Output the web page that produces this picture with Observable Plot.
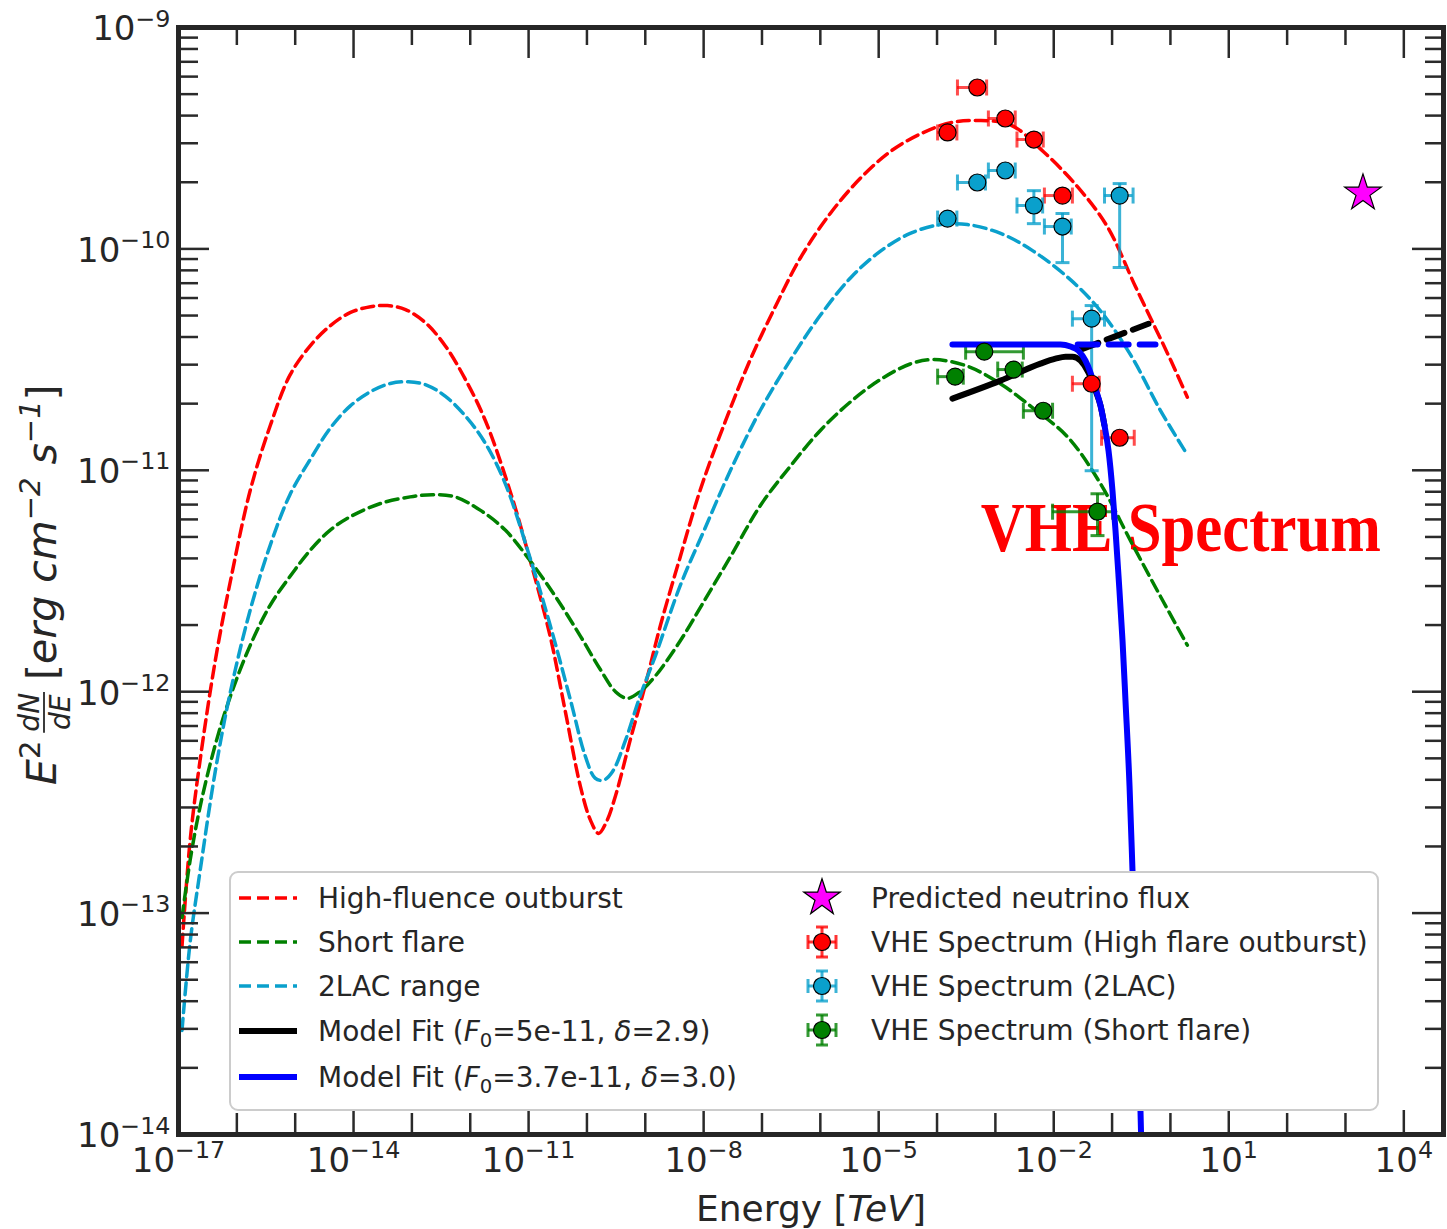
<!DOCTYPE html>
<html>
<head>
<meta charset="utf-8">
<script src="https://cdn.jsdelivr.net/npm/d3@7"></script>
<script src="https://cdn.jsdelivr.net/npm/@observablehq/plot@0.6"></script>
<style>
  body { margin: 0; background: #ffffff; }
  #chart svg { display: block; }
</style>
</head>
<body>
<div id="chart"></div>
<script>
// ---------------- DATA ----------------
// Model SED curves: [log10 E (TeV), log10 E^2 dN/dE (erg cm^-2 s^-1)]
const highFluenceOutburst = [
  [-16.94,-13.15],[-16.80,-12.67],[-16.63,-12.31],[-16.37,-11.86],[-16.11,-11.50],[-15.77,-11.09],
  [-15.43,-10.80],[-15.09,-10.57],[-14.74,-10.437],[-14.40,-10.347],[-14.06,-10.288],[-13.71,-10.261],
  [-13.42,-10.256],[-13.11,-10.274],[-12.77,-10.333],[-12.43,-10.437],[-12.09,-10.586],[-11.74,-10.776],
  [-11.31,-11.10],[-10.97,-11.41],[-10.63,-11.75],[-10.37,-12.09],[-10.11,-12.43],[-9.94,-12.58],
  [-9.80,-12.64],[-9.67,-12.59],[-9.51,-12.47],[-9.26,-12.22],[-9.00,-11.97],[-8.74,-11.70],
  [-8.40,-11.39],[-8.06,-11.09],[-7.63,-10.78],[-7.20,-10.50],[-6.77,-10.26],[-6.34,-10.04],
  [-5.83,-9.84],[-5.31,-9.68],[-4.80,-9.56],[-4.28,-9.48],[-3.77,-9.43],[-3.31,-9.42],
  [-2.74,-9.44],[-2.18,-9.56],[-1.59,-9.72],[-1.08,-9.90],[-0.60,-10.17],[-0.29,-10.34],
  [0.00,-10.50],[0.29,-10.67]
];
const shortFlare = [
  [-16.94,-13.02],[-16.80,-12.76],[-16.63,-12.52],[-16.37,-12.24],[-16.11,-12.02],[-15.77,-11.79],
  [-15.43,-11.61],[-15.09,-11.48],[-14.74,-11.36],[-14.40,-11.27],[-14.06,-11.21],[-13.54,-11.15],
  [-13.03,-11.12],[-12.65,-11.11],[-12.26,-11.12],[-11.83,-11.18],[-11.40,-11.27],[-10.97,-11.41],
  [-10.54,-11.57],[-10.11,-11.75],[-9.77,-11.90],[-9.51,-12.00],[-9.31,-12.03],[-9.09,-12.00],
  [-8.83,-11.93],[-8.40,-11.77],[-7.99,-11.59],[-7.54,-11.39],[-7.03,-11.16],[-6.51,-10.98],
  [-6.00,-10.82],[-5.48,-10.69],[-4.97,-10.59],[-4.46,-10.52],[-4.06,-10.50],[-3.48,-10.53],
  [-2.91,-10.61],[-2.35,-10.72],[-1.76,-10.85],[-1.20,-11.06],[-0.68,-11.32],[-0.17,-11.57],
  [0.29,-11.79]
];
const lac2Range = [
  [-16.94,-13.53],[-16.80,-13.13],[-16.63,-12.81],[-16.37,-12.36],[-16.11,-12.00],[-15.77,-11.63],
  [-15.43,-11.34],[-15.09,-11.11],[-14.74,-10.95],[-14.40,-10.81],[-14.06,-10.71],[-13.71,-10.645],
  [-13.37,-10.608],[-13.06,-10.600],[-12.75,-10.615],[-12.43,-10.665],[-12.10,-10.75],[-11.76,-10.87],
  [-11.40,-11.06],[-10.97,-11.40],[-10.63,-11.70],[-10.28,-12.04],[-10.03,-12.29],[-9.86,-12.39],
  [-9.72,-12.40],[-9.56,-12.36],[-9.34,-12.22],[-9.09,-12.02],[-8.83,-11.84],[-8.40,-11.52],
  [-7.99,-11.27],[-7.54,-11.00],[-7.03,-10.73],[-6.51,-10.50],[-6.00,-10.30],[-5.48,-10.13],
  [-4.97,-10.01],[-4.46,-9.93],[-3.94,-9.89],[-3.48,-9.89],[-2.91,-9.93],[-2.35,-10.01],
  [-1.71,-10.14],[-1.20,-10.28],[-0.68,-10.48],[-0.17,-10.73],[0.29,-10.93]
];
// Model fits
const modelFitBlackSolid = [
  [-3.736,-10.676],[-2.913,-10.595],[-2.227,-10.518],[-1.970,-10.496],[-1.798,-10.487],[-1.679,-10.487],
  [-1.541,-10.505],[-1.404,-10.559],[-1.284,-10.640],[-1.198,-10.708],[-1.130,-10.798]
];
const modelFitBlackDashed = [[-1.541,-10.455],[-0.376,-10.338]];
const modelFitBlueSolid = [
  [-3.736,-10.432],[-1.884,-10.432],[-1.713,-10.441],[-1.576,-10.460],[-1.456,-10.505],[-1.370,-10.559],
  [-1.284,-10.631],[-1.198,-10.708],[-1.130,-10.798],[-1.061,-10.911],[-0.993,-11.092],[-0.941,-11.273],
  [-0.890,-11.476],[-0.821,-11.770],[-0.770,-12.041],[-0.701,-12.425],[-0.650,-12.809],[-0.581,-13.352],
  [-0.513,-13.894],[-0.496,-14.075]
];
const modelFitBlueDashed = [[-1.59,-10.432],[-0.256,-10.432]];

// VHE spectra: [log10 E, log10 F, log10 E_lo, log10 E_hi, log10 F_lo, log10 F_hi]
const vheHighFlare = [
  [-3.82,-9.474,-3.99,-3.66,null,null],
  [-3.31,-9.271,-3.65,-3.15,null,null],
  [-2.83,-9.411,-3.12,-2.66,null,null],
  [-2.34,-9.506,-2.63,-2.18,null,null],
  [-1.85,-9.759,-2.16,-1.68,null,null],
  [-1.35,-10.609,-1.68,-1.22,null,null],
  [-0.87,-10.853,-1.18,-0.62,null,null]
];
const vhe2LAC = [
  [-3.82,-9.863,-3.99,-3.66,null,null],
  [-3.31,-9.700,-3.65,-3.17,null,null],
  [-2.83,-9.646,-3.12,-2.66,null,null],
  [-2.34,-9.804,-2.63,-2.19,-9.886,-9.737],
  [-1.85,-9.899,-2.16,-1.70,-10.062,-9.84],
  [-1.35,-10.315,-1.68,-1.13,-11.002,-10.256],
  [-0.87,-9.759,-1.13,-0.64,-10.084,-9.705]
];
const vheShortFlare = [
  [-3.69,-10.577,-3.99,-3.55,null,null],
  [-3.19,-10.464,-3.51,-2.52,null,null],
  [-2.69,-10.545,-2.96,-2.54,null,null],
  [-2.18,-10.731,-2.52,-2.02,null,null],
  [-1.25,-11.187,-2.02,-0.99,-11.295,-11.106]
];
const neutrinoFlux = [[3.30,-9.748]];
const annotation = [{logE: -3.25, logF: -11.363, text: "VHE Spectrum"}];

// Axes
const xTickExponents = [-17,-14,-11,-8,-5,-2,1,4];
const yTickExponents = [-14,-13,-12,-11,-10,-9];
const xLabel = "Energy [TeV]";

// Legend
const legendLines = [
  {label: "High-fluence outburst", color: "#ff0000", dash: "12,6", width: 3.5},
  {label: "Short flare", color: "#008000", dash: "12,6", width: 3.5},
  {label: "2LAC range", color: "#0aa0cc", dash: "12,6", width: 3.5},
  {label: "Model Fit (F_0=5e-11, δ=2.9)", color: "#000000", dash: null, width: 6},
  {label: "Model Fit (F_0=3.7e-11, δ=3.0)", color: "#0000ff", dash: null, width: 6}
];
const legendMarkers = [
  {label: "Predicted neutrino flux", color: "#ff00ff", kind: "star"},
  {label: "VHE Spectrum (High flare outburst)", color: "#ff0000", kind: "err"},
  {label: "VHE Spectrum (2LAC)", color: "#0aa0cc", kind: "err"},
  {label: "VHE Spectrum (Short flare)", color: "#008000", kind: "err"}
];

// ---------------- BUILD ----------------
const RED = "#ff0000", GREEN = "#008000", CYAN = "#0aa0cc", BLUE = "#0000ff";
const W = 1447, H = 1229, mL = 178, mR = 4, mT = 27, mB = 95;
const innerW = W - mL - mR, innerH = H - mT - mB;
const TXT = "#262626", TICK = "#2a2a2a";

const L = a => a.map(([e, f]) => ({E: 10 ** e, F: 10 ** f}));
const P = a => a.map(([e, f, elo, ehi, flo, fhi]) => ({
  E: 10 ** e, F: 10 ** f, Elo: 10 ** elo, Ehi: 10 ** ehi,
  Flo: flo == null ? null : 10 ** flo, Fhi: fhi == null ? null : 10 ** fhi
}));

const vbar = {draw(ctx, size) { const r = Math.sqrt(size / Math.PI); ctx.moveTo(0, -r); ctx.lineTo(0, r); }};
const hbar = {draw(ctx, size) { const r = Math.sqrt(size / Math.PI); ctx.moveTo(-r, 0); ctx.lineTo(r, 0); }};

function errMarks(rows, color, op) {
  const wy = rows.filter(d => d.Flo != null);
  const s = {stroke: color, strokeWidth: 3, strokeOpacity: op};
  return [
    Plot.ruleY(rows, {y: "F", x1: "Elo", x2: "Ehi", ...s}),
    Plot.dot(rows, {x: "Elo", y: "F", symbol: vbar, r: 8, fill: "none", ...s}),
    Plot.dot(rows, {x: "Ehi", y: "F", symbol: vbar, r: 8, fill: "none", ...s}),
    Plot.ruleX(wy, {x: "E", y1: "Flo", y2: "Fhi", ...s}),
    Plot.dot(wy, {x: "E", y: "Flo", symbol: hbar, r: 7, fill: "none", ...s}),
    Plot.dot(wy, {x: "E", y: "Fhi", symbol: hbar, r: 7, fill: "none", ...s})
  ];
}

const hf = P(vheHighFlare), lac = P(vhe2LAC), sf = P(vheShortFlare);

const xDecades = d3.range(-17, 5).map(k => 10 ** k);
const xMajor = xTickExponents.map(k => 10 ** k);
const xMinor = xDecades.filter(v => !xMajor.some(m => Math.abs(Math.log10(m) - Math.log10(v)) < 1e-6));
const yMajor = yTickExponents.map(k => 10 ** k);
const yMinor = [];
for (let k = -14; k < -9; k++) for (let m = 2; m <= 9; m++) yMinor.push(m * 10 ** k);

const sup = k => "10^" + (k < 0 ? "\u2212" + (-k) : String(k));

const plot = Plot.plot({
  width: W, height: H,
  marginLeft: mL, marginRight: mR, marginTop: mT, marginBottom: mB,
  style: {fontFamily: "DejaVu Sans", background: "#ffffff", color: TXT},
  x: {type: "log", domain: [1e-17, 10 ** 4.68], axis: null},
  y: {type: "log", domain: [1e-14, 1e-9], axis: null},
  marks: [
    Plot.text(annotation, {x: d => 10 ** d.logE, y: d => 10 ** d.logF, text: "text",
      fill: RED, fontSize: 70, fontWeight: "bold", fontFamily: "Liberation Serif",
      textAnchor: "start", lineAnchor: "bottom"}),
    // SED curves
    Plot.line(L(highFluenceOutburst), {x: "E", y: "F", stroke: RED, strokeWidth: 3.5, strokeDasharray: "12,6", curve: "catmull-rom"}),
    Plot.line(L(shortFlare), {x: "E", y: "F", stroke: GREEN, strokeWidth: 3.5, strokeDasharray: "12,6", curve: "catmull-rom"}),
    Plot.line(L(lac2Range), {x: "E", y: "F", stroke: CYAN, strokeWidth: 3.5, strokeDasharray: "12,6", curve: "catmull-rom"}),
    // error bars
    ...errMarks(hf, RED, 0.7),
    ...errMarks(lac, CYAN, 0.8),
    ...errMarks(sf, GREEN, 0.8),
    // model fits
    Plot.line(L(modelFitBlackDashed), {x: "E", y: "F", stroke: "#000", strokeWidth: 6, strokeDasharray: "19,9"}),
    Plot.line(L(modelFitBlackSolid), {x: "E", y: "F", stroke: "#000", strokeWidth: 6, curve: "monotone-x"}),
    Plot.line(L(modelFitBlueDashed), {x: "E", y: "F", stroke: BLUE, strokeWidth: 6, strokeDasharray: "20,11"}),
    Plot.line(L(modelFitBlueSolid), {x: "E", y: "F", stroke: BLUE, strokeWidth: 6, curve: "monotone-x", clip: true}),
    // points
    Plot.dot(hf, {x: "E", y: "F", r: 8.5, fill: RED, stroke: "#000", strokeWidth: 1.2}),
    Plot.dot(lac, {x: "E", y: "F", r: 8.5, fill: CYAN, stroke: "#000", strokeWidth: 1.2}),
    Plot.dot(sf, {x: "E", y: "F", r: 8.5, fill: GREEN, stroke: "#000", strokeWidth: 1.2}),
    Plot.dot(L(neutrinoFlux), {x: "E", y: "F", symbol: "star", r: 11.5, fill: "#ff00ff", stroke: "#000", strokeWidth: 1.2}),
    // ticks (inward)
    Plot.tickX(xMajor, {x: d => d, insetTop: innerH - 24, stroke: TICK, strokeWidth: 2.5}),
    Plot.tickX(xMinor, {x: d => d, insetTop: innerH - 21, stroke: TICK, strokeWidth: 2.5}),
    Plot.tickX(xMajor, {x: d => d, insetBottom: innerH - 31, stroke: TICK, strokeWidth: 2.5}),
    Plot.tickX(xMinor, {x: d => d, insetBottom: innerH - 18, stroke: TICK, strokeWidth: 2.5}),
    Plot.tickY(yMajor, {y: d => d, insetRight: innerW - 31, stroke: TICK, strokeWidth: 2.5}),
    Plot.tickY(yMinor, {y: d => d, insetRight: innerW - 20, stroke: TICK, strokeWidth: 2.5}),
    Plot.tickY(yMajor, {y: d => d, insetLeft: innerW - 31, stroke: TICK, strokeWidth: 2.5}),
    Plot.tickY(yMinor, {y: d => d, insetLeft: innerW - 18, stroke: TICK, strokeWidth: 2.5}),
    Plot.frame({stroke: "#262626", strokeWidth: 5}),
    // tick labels
    Plot.text(xTickExponents, {x: k => 10 ** k, text: k => sup(k), frameAnchor: "bottom", dy: 13,
      lineAnchor: "top", textAnchor: "middle", fontSize: 34, fill: TXT}),
    Plot.text(yTickExponents, {y: k => 10 ** k, text: k => sup(k), frameAnchor: "left", dx: -8, dy: 2,
      lineAnchor: "middle", textAnchor: "end", fontSize: 34, fill: TXT}),
    Plot.text([xLabel], {text: d => d, frameAnchor: "bottom", dy: 86, lineAnchor: "bottom",
      textAnchor: "middle", fontSize: 36, fill: TXT})
  ]
});
document.getElementById("chart").appendChild(plot);

// ---------------- text post-processing (superscripts / italics) ----------------
const svg = d3.select(plot);
svg.selectAll("text").each(function () {
  const t = d3.select(this);
  const s = this.textContent;
  if (s.includes("^")) {
    const [base, ex] = s.split("^");
    this.textContent = "";
    t.append("tspan").text(base);
    t.append("tspan").attr("font-size", "0.7em").attr("dy", "-0.58em").text(ex);
  } else if (s === xLabel) {
    this.textContent = "";
    t.style("white-space", "pre");
    t.append("tspan").text("Energy [");
    t.append("tspan").attr("font-style", "italic").text("TeV");
    t.append("tspan").text("]");
  } else if (s === "VHE Spectrum") {
    t.attr("textLength", 400).attr("lengthAdjust", "spacingAndGlyphs");
  }
});

// Y axis label (rotated)
const FS = 41;
const yl = svg.append("g").attr("transform", "translate(56,581) rotate(-90)")
  .attr("font-family", "DejaVu Sans").attr("font-size", FS).attr("fill", TXT).attr("text-anchor", "start");
const yt = yl.append("text").attr("x", -204).attr("y", 0).style("white-space", "pre");
const wdN = 1.383 * 28, wdE = 1.267 * 28;
yt.append("tspan").attr("font-style", "italic").text("E");
yt.append("tspan").attr("font-size", 29).attr("dy", -16).text("2");
yt.append("tspan").attr("font-size", 28).attr("font-style", "italic").attr("dx", 9).attr("dy", -1).text("dN");
yt.append("tspan").attr("font-size", 28).attr("font-style", "italic").attr("dx", -(wdN + wdE) / 2).attr("dy", 31).text("dE");
yt.append("tspan").attr("dx", (wdN - wdE) / 2).attr("dy", -14).text(" [");
yt.append("tspan").attr("font-style", "italic").text("erg cm");
yt.append("tspan").attr("font-size", 29).attr("font-style", "italic").attr("dy", -16).text("\u22122");
yt.append("tspan").attr("font-style", "italic").attr("dy", 16).text(" s");
yt.append("tspan").attr("font-size", 29).attr("font-style", "italic").attr("dy", -16).text("\u22121");
yt.append("tspan").attr("dy", 16).text("]");
try {
  const n = yt.node();
  const a = n.getStartPositionOfChar(2), b = n.getEndPositionOfChar(3);
  yl.append("line").attr("x1", a.x - 1).attr("x2", b.x + 1).attr("y1", -12).attr("y2", -12)
    .attr("stroke", TXT).attr("stroke-width", 1.8);
} catch (e) {}

// ---------------- Legend ----------------
function rich(t, s, size) {
  let pend = 0;
  s.split(/(F_0|δ)/).filter(p => p).forEach(p => {
    if (p === "F_0") {
      t.append("tspan").attr("font-style", "italic").attr("dy", pend || null).text("F");
      t.append("tspan").attr("font-size", size * 0.7).attr("dy", size * 0.22).text("0");
      pend = -size * 0.22;
    } else if (p === "δ") {
      t.append("tspan").attr("font-style", "italic").attr("dy", pend || null).text("δ");
      pend = 0;
    } else {
      t.append("tspan").attr("dy", pend || null).text(p);
      pend = 0;
    }
  });
}
const lg = svg.append("g").attr("font-family", "DejaVu Sans").attr("font-size", 28)
  .attr("fill", TXT).attr("text-anchor", "start");
lg.append("rect").attr("x", 230).attr("y", 872).attr("width", 1148).attr("height", 238).attr("rx", 8)
  .attr("fill", "#ffffff").attr("stroke", "#cccccc").attr("stroke-width", 2);
const leftRows = [898, 942, 986, 1031, 1077];
legendLines.forEach((d, i) => {
  const y = leftRows[i];
  lg.append("line").attr("x1", 239).attr("x2", 297).attr("y1", y).attr("y2", y)
    .attr("stroke", d.color).attr("stroke-width", d.width).attr("stroke-dasharray", d.dash);
  const t = lg.append("text").attr("x", 318).attr("y", y + 10).style("white-space", "pre");
  rich(t, d.label, 28);
});
const rightRows = [898, 942, 986, 1030];
legendMarkers.forEach((d, i) => {
  const y = rightRows[i], x = 822;
  if (d.kind === "star") {
    lg.append("path").attr("d", d3.symbol(d3.symbolStar, Math.PI * 11.5 * 11.5)())
      .attr("transform", `translate(${x},${y})`).attr("fill", d.color).attr("stroke", "#000").attr("stroke-width", 1.2);
  } else {
    const g = lg.append("g").attr("transform", `translate(${x},${y})`)
      .attr("stroke", d.color).attr("stroke-width", 3).attr("stroke-opacity", 0.8);
    g.append("line").attr("x1", -14).attr("x2", 14).attr("y1", 0).attr("y2", 0);
    g.append("line").attr("x1", 0).attr("x2", 0).attr("y1", -15).attr("y2", 15);
    g.append("line").attr("x1", -14).attr("x2", -14).attr("y1", -7).attr("y2", 7);
    g.append("line").attr("x1", 14).attr("x2", 14).attr("y1", -7).attr("y2", 7);
    g.append("line").attr("x1", -6).attr("x2", 6).attr("y1", -15).attr("y2", -15);
    g.append("line").attr("x1", -6).attr("x2", 6).attr("y1", 15).attr("y2", 15);
    lg.append("circle").attr("cx", x).attr("cy", y).attr("r", 8.5).attr("fill", d.color)
      .attr("stroke", "#000").attr("stroke-width", 1.2);
  }
  lg.append("text").attr("x", 871).attr("y", y + 10).text(d.label);
});
</script>
</body>
</html>
